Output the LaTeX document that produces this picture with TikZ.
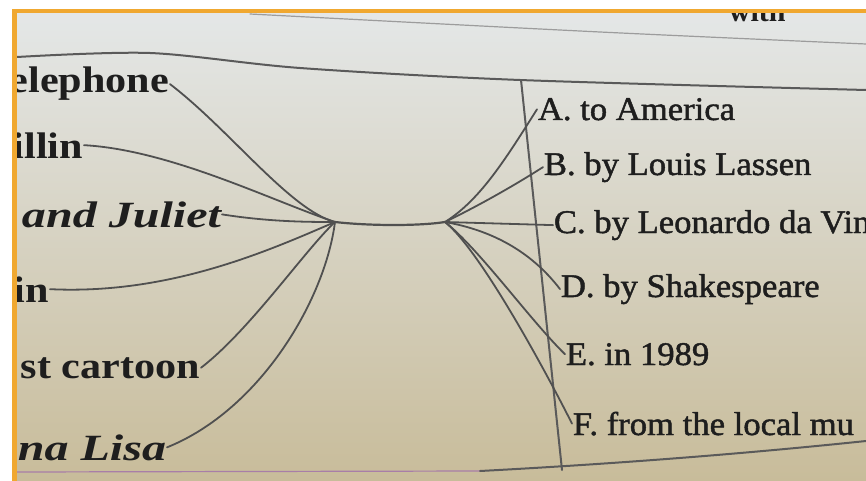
\documentclass[tikz,border=0pt]{standalone}
\usepackage{fontspec}
\setmainfont{Liberation Serif}
\newfontfamily\leftfont[FakeStretch=1.14]{Liberation Serif}
\newfontfamily\leftitfont[FakeStretch=1.3]{Liberation Serif}
\newfontfamily\rightfont[FakeBold=1.4,FakeStretch=1.05]{Liberation Serif}
\usetikzlibrary{calc}
\definecolor{papertop}{HTML}{E4E7E7}
\definecolor{papermid}{HTML}{DADBD4}
\definecolor{paperbot}{HTML}{C8BC9A}
\definecolor{frameorange}{HTML}{F0A830}
\definecolor{inkgray}{HTML}{505050}
\definecolor{rulegray}{HTML}{5A5A5A}
\definecolor{textblack}{HTML}{1E1E1E}

\begin{document}
\begin{tikzpicture}[line width=1.8pt, line cap=round, line join=round, x=1pt, y=-1pt,
    ink/.style={draw=inkgray, line width=1.8pt},
    ruleline/.style={draw=rulegray, line width=2pt},
    lefttext/.style={anchor=base east, inner sep=0pt, text=textblack,
      font=\leftfont\fontsize{37}{40}\selectfont\bfseries},
    leftitext/.style={lefttext,
      font=\leftitfont\fontsize{37}{40}\selectfont\bfseries\itshape},
    righttext/.style={anchor=base west, inner sep=0pt, text=textblack,
      font=\rightfont\fontsize{33}{36}\selectfont}]
  \useasboundingbox (0,0) rectangle (866,481);
  \fill[white] (0,0) rectangle (866,481);
  % photo edge
  \fill[frameorange] (12,9) rectangle (866,14);
  \fill[frameorange] (12,9) rectangle (17,481);
  \begin{scope}
    \clip (17,14) rectangle (866,481);
    \shade[top color=papertop, middle color=papermid, bottom color=paperbot] (17,14) rectangle (866,481);
    \node[anchor=base west, inner sep=0pt, text=textblack, font=\fontsize{30}{34}\selectfont\bfseries] (top) at (728,22) {with};
    % table rules
    \draw[ruleline, draw=rulegray!60, line width=1.2pt] plot[smooth] coordinates {(250,14) (600,32) (866,44)};
    \draw[ruleline] plot[smooth] coordinates {(17,57) (150,53) (300,68) (520,80) (866,90)};
    \draw[ruleline, draw=rulegray!45!violet!60, line width=1.2pt] (17,472) -- (480,471);
    \draw[ruleline] (480,471) .. controls (650,462) and (780,450) .. (866,441);
    \coordinate (colTop) at (521,80);
    \coordinate (colBot) at (562,470);
    \draw[ruleline] (colTop) -- (colBot);

    % left column
    \node[lefttext] (tel) at (170,93) {elephone};
    \node[lefttext] (ill) at (84,158) {illin};
    \node[leftitext] (jul) at (222,227) {and Juliet};
    \node[lefttext] (inn) at (50,302) {in};
    \node[lefttext] (cart) at (201,378) {st cartoon};
    \node[leftitext] (lisa) at (167,460) {na Lisa};

    % right column
    \node[righttext] (A) at (537,120) {A. to America};
    \node[righttext] (B) at (543,175) {B. by Louis Lassen};
    \node[righttext] (C) at (553,233) {C. by Leonardo da Vin};
    \node[righttext] (D) at (560,297) {D. by Shakespeare};
    \node[righttext] (E) at (565,365) {E. in 1989};
    \node[righttext] (F) at (572,435) {F. from the local mu};

    % where the matching lines meet
    \coordinate (hubL) at (335,222);
    \coordinate (hubR) at (445,222);

    \draw[ink] (tel.east) .. controls (230,130) and (290,210) .. (hubL);
    \draw[ink] (ill.east) .. controls (170,150) and (270,200) .. (hubL);
    \draw[ink] (jul.east) .. controls (270,222) and (310,222) .. (hubL);
    \draw[ink] (inn.east) .. controls (170,295) and (270,250) .. (hubL);
    \draw[ink] (cart.east) .. controls (250,330) and (305,250) .. (hubL);
    \draw[ink] (lisa.east) .. controls (260,410) and (325,300) .. (hubL);
    \draw[ink, line width=2.2pt] (hubL) .. controls (370,226) and (420,226) .. (hubR);
    \draw[ink] (hubR) .. controls (480,200) and (505,160) .. (A.west);
    \draw[ink] (hubR) .. controls (480,205) and (515,185) .. (B.west);
    \draw[ink] (hubR) -- (C.west);
    \draw[ink] (hubR) .. controls (490,230) and (530,250) .. (D.west);
    \draw[ink] (hubR) .. controls (480,250) and (530,320) .. (E.west);
    \draw[ink] (hubR) .. controls (480,250) and (545,370) .. (F.west);
  \end{scope}
\end{tikzpicture}
\end{document}
